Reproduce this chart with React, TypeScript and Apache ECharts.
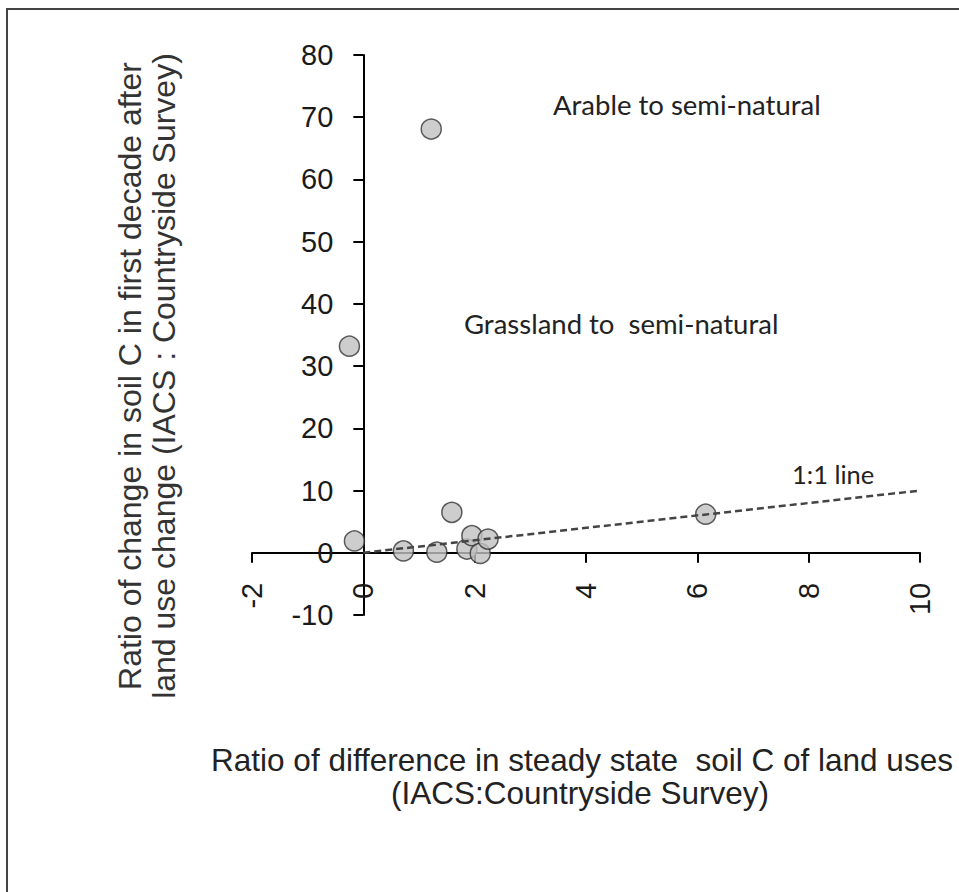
import React, { useEffect, useRef } from "react";
import * as echarts from "echarts";

// Data
const xValues = [1.22, -0.25, -0.16, 0.72, 1.32, 1.59, 1.86, 1.95, 2.1, 2.24, 6.15];
const yValues = [68.1, 33.2, 1.9, 0.3, 0.1, 6.5, 0.6, 2.75, -0.1, 2.2, 6.2];
const oneToOneX = [0, 10];
const oneToOneY = [0, 10];
const xTicks = { min: -2, max: 10, interval: 2 };
const yTicks = { min: -10, max: 80, interval: 10 };

const yTitleLines = [
  "Ratio of change in soil C in first decade after",
  "land use change (IACS : Countryside Survey)",
];
const xTitleLines = [
  "Ratio of difference in steady state  soil C of land uses",
  "(IACS:Countryside Survey)",
];
const annotations = ["Arable to semi-natural", "Grassland to  semi-natural", "1:1 line"];

export default function App() {
  const ref = useRef<HTMLDivElement>(null);
  useEffect(() => {
    if (!ref.current) return;
    const chart = echarts.init(ref.current, null, { renderer: "svg" });
    const scatterData = xValues.map((x, i) => [x, yValues[i]]);
    const lineData = oneToOneX.map((x, i) => [x, oneToOneY[i]]);
    const sansFont = "'Liberation Sans', Arial, sans-serif";
    const annFont = "Lato, 'Open Sans', sans-serif";

    const gridLeft = 252;
    const gridRight = 39;
    const gridTop = 55;
    const gridBottom = 277;
    const gridW = 959 - gridLeft - gridRight;
    const gridH = 892 - gridTop - gridBottom;
    // place each axis line where the other axis is zero (crossing axes)
    const xZeroOffset = ((0 - xTicks.min) / (xTicks.max - xTicks.min)) * gridW;
    const yZeroOffset = ((0 - yTicks.min) / (yTicks.max - yTicks.min)) * gridH;

    const titleStyle = (text: string, fill: string, size: number) => ({
      text,
      fontSize: size,
      fontFamily: sansFont,
      fill,
      textAlign: "center",
      textVerticalAlign: "middle",
    });
    const annStyle = (text: string, size: number) => ({
      text,
      fontSize: size,
      fontFamily: annFont,
      fill: "#222222",
      textAlign: "left",
      textVerticalAlign: "middle",
    });
    chart.setOption({
      animation: false,
      backgroundColor: "#ffffff",
      grid: { left: gridLeft, right: gridRight, top: gridTop, bottom: gridBottom, containLabel: false },
      xAxis: {
        type: "value",
        position: "bottom",
        offset: -yZeroOffset,
        min: xTicks.min,
        max: xTicks.max,
        interval: xTicks.interval,
        axisLine: { show: true, onZero: false, lineStyle: { color: "#000", width: 2 } },
        axisTick: { show: true, inside: false, length: 10, lineStyle: { color: "#000", width: 2 } },
        axisLabel: {
          rotate: 90,
          margin: 30,
          fontSize: 29,
          fontFamily: sansFont,
          color: "#1a1a1a",
        },
        splitLine: { show: false },
      },
      yAxis: {
        type: "value",
        position: "left",
        offset: -xZeroOffset,
        min: yTicks.min,
        max: yTicks.max,
        interval: yTicks.interval,
        axisLine: { show: true, onZero: false, lineStyle: { color: "#000", width: 2 } },
        axisTick: { show: true, inside: false, length: 10, lineStyle: { color: "#000", width: 2 } },
        axisLabel: {
          margin: 30,
          fontSize: 29,
          fontFamily: sansFont,
          color: "#1a1a1a",
        },
        splitLine: { show: false },
      },
      series: [
        {
          type: "scatter",
          data: scatterData,
          symbol: "circle",
          symbolSize: 20,
          itemStyle: { color: "#c0c0c0", borderColor: "#333333", borderWidth: 1.5 },
          z: 2,
        },
        {
          type: "line",
          data: lineData,
          showSymbol: false,
          symbol: "none",
          lineStyle: { color: "#444444", width: 2.5, type: [7, 4] },
          z: 3,
        },
      ],
      graphic: [
        {
          type: "rect",
          shape: { x: 7, y: 9, width: 1000, height: 1000 },
          style: { fill: "none", stroke: "#444444", lineWidth: 2 },
          silent: true,
          z: 0,
        },
        { type: "text", x: 130, y: 376, rotation: Math.PI / 2, style: titleStyle(yTitleLines[0], "#333333", 32) },
        { type: "text", x: 164, y: 376, rotation: Math.PI / 2, style: titleStyle(yTitleLines[1], "#333333", 32) },
        { type: "text", x: 582, y: 760, style: titleStyle(xTitleLines[0], "#222222", 31.5) },
        { type: "text", x: 580, y: 793, style: titleStyle(xTitleLines[1], "#222222", 31.5) },
        { type: "text", x: 553, y: 104, style: annStyle(annotations[0], 27.5) },
        { type: "text", x: 464, y: 323, style: annStyle(annotations[1], 27.5) },
        { type: "text", x: 792, y: 474, style: annStyle(annotations[2], 25.5) },
      ],
    });
    return () => chart.dispose();
  }, []);
  return (
    <div
      ref={ref}
      style={{ position: "absolute", left: 0, top: 0, width: 959, height: 892 }}
    />
  );
}
